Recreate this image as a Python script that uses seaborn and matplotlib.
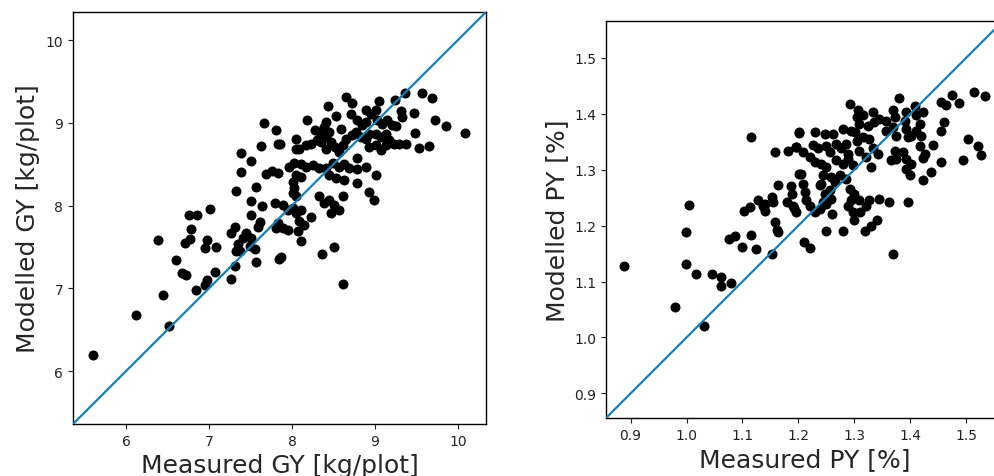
import matplotlib
matplotlib.use("Agg")
import matplotlib.pyplot as plt
import seaborn as sns
import pandas as pd

# Grain yield (GY) [kg/plot]: measured vs modelled
gy_measured = [
    7.66, 7.81, 7.63, 7.83, 7.39, 7.51, 7.38, 7.69, 7.76, 7.83,
    7.57, 7.33, 7.51, 7.64, 7.80, 7.01, 6.76, 6.85, 7.51, 7.61,
    7.59, 7.81, 6.78, 7.31, 7.27, 7.45, 7.41, 7.51, 6.38, 6.71,
    6.77, 6.97, 6.95, 7.08, 7.35, 7.37, 7.49, 7.55, 7.33, 6.60,
    6.67, 6.72, 7.07, 6.98, 6.95, 6.84, 6.44, 6.12, 6.52, 5.60,
    7.31, 7.27, 7.57, 7.85, 9.57, 9.69, 9.36, 9.24, 9.05, 8.65,
    8.72, 8.44, 8.53, 8.71, 8.89, 8.95, 9.01, 9.31, 9.33, 9.47,
    9.73, 9.86, 8.18, 8.41, 8.39, 8.79, 8.85, 8.89, 9.03, 9.09,
    9.15, 9.21, 9.25, 8.28, 8.35, 8.30, 8.41, 8.45, 8.59, 8.65,
    8.61, 8.73, 8.77, 8.83, 8.89, 8.93, 9.01, 9.07, 9.13, 9.17,
    9.23, 9.29, 9.37, 9.48, 9.53, 9.65, 7.86, 8.05, 8.09, 8.05,
    8.17, 8.23, 8.35, 8.41, 8.47, 8.52, 8.57, 8.93, 9.01, 9.07,
    9.13, 7.96, 8.03, 8.11, 8.17, 8.25, 8.33, 8.41, 8.49, 8.57,
    8.63, 8.69, 8.79, 8.89, 8.79, 8.05, 8.11, 8.01, 8.45, 8.53,
    8.63, 9.01, 8.03, 8.01, 8.05, 8.79, 8.93, 8.99, 7.89, 7.95,
    8.01, 8.05, 8.11, 8.33, 8.39, 8.45, 8.51, 8.61, 8.47, 8.57,
    7.83, 7.89, 7.95, 8.09, 8.15, 8.07, 8.11, 8.23, 8.51, 8.36,
    7.87, 8.61, 10.09,
]
gy_modelled = [
    9.00, 8.91, 8.72, 8.74, 8.64, 8.54, 8.40, 8.38, 8.42, 8.39,
    8.23, 8.18, 8.06, 7.99, 8.03, 7.96, 7.89, 7.89, 7.89, 7.80,
    7.74, 7.73, 7.72, 7.74, 7.67, 7.67, 7.61, 7.61, 7.58, 7.55,
    7.60, 7.58, 7.49, 7.50, 7.53, 7.45, 7.51, 7.47, 7.45, 7.34,
    7.19, 7.16, 7.20, 7.10, 7.04, 6.98, 6.92, 6.68, 6.54, 6.20,
    7.27, 7.11, 7.32, 7.35, 9.36, 9.30, 9.36, 9.28, 9.27, 9.31,
    9.24, 9.20, 9.08, 9.11, 9.15, 9.11, 9.15, 9.14, 9.07, 9.12,
    9.03, 8.96, 9.03, 9.01, 8.95, 9.03, 8.97, 9.01, 9.03, 8.99,
    9.03, 8.97, 8.96, 8.91, 8.87, 8.79, 8.83, 8.89, 8.93, 8.81,
    8.73, 8.85, 8.89, 8.83, 8.81, 8.87, 8.87, 8.83, 8.87, 8.79,
    8.75, 8.75, 8.74, 8.88, 8.70, 8.72, 8.74, 8.81, 8.69, 8.68,
    8.73, 8.75, 8.77, 8.69, 8.77, 8.71, 8.65, 8.71, 8.73, 8.67,
    8.73, 8.47, 8.51, 8.50, 8.47, 8.49, 8.46, 8.45, 8.51, 8.47,
    8.50, 8.45, 8.44, 8.47, 8.57, 8.37, 8.35, 8.29, 8.37, 8.33,
    8.31, 8.37, 8.21, 8.15, 8.11, 8.27, 8.17, 8.07, 8.01, 7.95,
    7.97, 7.91, 7.95, 8.11, 8.03, 8.07, 8.01, 8.11, 7.91, 7.95,
    7.79, 7.73, 7.71, 7.81, 7.77, 7.69, 7.57, 7.86, 7.50, 7.41,
    7.38, 7.05, 8.88,
]

# Protein yield (PY) [%]: measured vs modelled
py_measured = [
    1.115, 1.201, 1.158, 1.181, 1.195, 1.201, 1.164, 1.187, 1.189, 1.179,
    1.192, 1.128, 1.137, 1.140, 1.154, 1.113, 1.102, 1.004, 0.999, 1.158,
    1.161, 1.164, 1.076, 1.086, 1.115, 1.100, 1.125, 1.152, 0.888, 0.999,
    1.017, 1.046, 1.061, 1.061, 1.080, 0.979, 1.031, 1.515, 1.533, 1.475,
    1.488, 1.455, 1.464, 1.380, 1.293, 1.408, 1.423, 1.411, 1.306, 1.315,
    1.333, 1.345, 1.369, 1.372, 1.357, 1.393, 1.390, 1.417, 1.411, 1.461,
    1.455, 1.304, 1.309, 1.301, 1.324, 1.336, 1.356, 1.369, 1.375, 1.393,
    1.396, 1.402, 1.202, 1.229, 1.247, 1.262, 1.280, 1.295, 1.420, 1.417,
    1.440, 1.503, 1.521, 1.527, 1.495, 1.455, 1.426, 1.423, 1.438, 1.423,
    1.196, 1.208, 1.226, 1.235, 1.250, 1.256, 1.268, 1.277, 1.286, 1.289,
    1.304, 1.315, 1.327, 1.309, 1.333, 1.321, 1.342, 1.372, 1.375, 1.366,
    1.387, 1.393, 1.402, 1.393, 1.399, 1.220, 1.229, 1.241, 1.250, 1.268,
    1.280, 1.289, 1.298, 1.330, 1.244, 1.241, 1.259, 1.274, 1.265, 1.286,
    1.205, 1.208, 1.211, 1.214, 1.238, 1.247, 1.256, 1.259, 1.244, 1.292,
    1.300, 1.295, 1.289, 1.298, 1.309, 1.321, 1.327, 1.345, 1.363, 1.396,
    1.152, 1.140, 1.190, 1.196, 1.220, 1.229, 1.238, 1.250, 1.300, 1.320,
    1.280, 1.330, 1.260, 1.250, 1.220, 1.210, 1.370, 1.340, 1.310,
]
py_modelled = [
    1.359, 1.366, 1.332, 1.333, 1.341, 1.293, 1.272, 1.271, 1.257, 1.242,
    1.232, 1.245, 1.236, 1.226, 1.243, 1.233, 1.227, 1.237, 1.189, 1.207,
    1.192, 1.189, 1.177, 1.182, 1.183, 1.161, 1.159, 1.150, 1.128, 1.132,
    1.113, 1.113, 1.109, 1.092, 1.098, 1.054, 1.021, 1.439, 1.431, 1.434,
    1.419, 1.422, 1.416, 1.428, 1.418, 1.414, 1.403, 1.397, 1.406, 1.397,
    1.403, 1.391, 1.406, 1.394, 1.388, 1.403, 1.388, 1.382, 1.370, 1.385,
    1.370, 1.394, 1.382, 1.367, 1.379, 1.385, 1.370, 1.376, 1.361, 1.373,
    1.358, 1.361, 1.367, 1.367, 1.364, 1.364, 1.373, 1.370, 1.361, 1.343,
    1.345, 1.355, 1.343, 1.327, 1.318, 1.314, 1.329, 1.321, 1.296, 1.281,
    1.340, 1.332, 1.345, 1.338, 1.343, 1.332, 1.346, 1.338, 1.346, 1.329,
    1.352, 1.358, 1.355, 1.334, 1.338, 1.323, 1.329, 1.334, 1.320, 1.317,
    1.332, 1.320, 1.311, 1.302, 1.290, 1.323, 1.314, 1.311, 1.305, 1.317,
    1.311, 1.320, 1.308, 1.305, 1.290, 1.275, 1.287, 1.290, 1.278, 1.284,
    1.293, 1.275, 1.260, 1.245, 1.272, 1.257, 1.263, 1.248, 1.242, 1.266,
    1.257, 1.245, 1.236, 1.224, 1.245, 1.236, 1.245, 1.248, 1.242, 1.242,
    1.251, 1.239, 1.236, 1.224, 1.236, 1.224, 1.230, 1.239, 1.210, 1.190,
    1.190, 1.200, 1.220, 1.190, 1.160, 1.170, 1.150, 1.210, 1.225,
]

gy = pd.DataFrame({"measured": gy_measured, "modelled": gy_modelled})
py = pd.DataFrame({"measured": py_measured, "modelled": py_modelled})

sns.set_style("ticks")
plt.rcParams["font.family"] = ["DejaVu Sans"]

fig = plt.figure(figsize=(9.94, 4.77), dpi=100)
ax1 = fig.add_axes([73 / 994, 52 / 477, 413 / 994, 412 / 477])
ax2 = fig.add_axes([606 / 994, 58 / 477, 397 / 994, 397 / 477])

line_color = "#1380b5"

panels = [
    (ax1, gy, (5.36, 10.34), "Measured GY [kg/plot]", "Modelled GY [kg/plot]"),
    (ax2, py, (0.856, 1.566), "Measured PY [%]", "Modelled PY [%]"),
]

for ax, df, lims, xlab, ylab in panels:
    sns.scatterplot(data=df, x="measured", y="modelled", ax=ax,
                    color="black", s=52, linewidth=0, zorder=2)
    ax.plot(lims, lims, color=line_color, lw=1.6, zorder=3)
    ax.set_xlim(lims)
    ax.set_ylim(lims)
    ax.set_xlabel(xlab, fontsize=18)
    ax.set_ylabel(ylab, fontsize=18)
    ax.tick_params(labelsize=10, colors="#222222")
    for sp in ax.spines.values():
        sp.set_color("black")
        sp.set_linewidth(1.0)

fig.savefig("out.png", dpi=100)
